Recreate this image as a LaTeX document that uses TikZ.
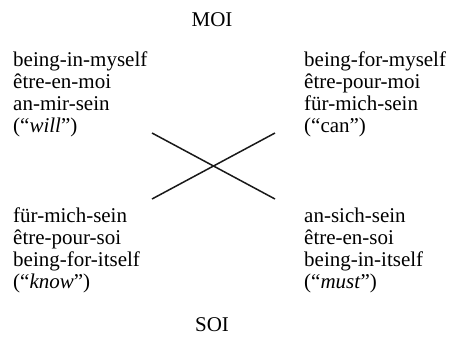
\documentclass[tikz,border=0pt]{standalone}
\usepackage{fontspec}
\setmainfont{Liberation Serif}
\begin{document}
\begin{tikzpicture}[x=1pt,y=-1pt,
  txt/.style={anchor=base west,inner sep=0pt,font=\fontsize{21}{22}\selectfont},
  lbl/.style={anchor=base,inner sep=0pt,font=\fontsize{21}{22}\selectfont},
  cross/.style={line width=1.5pt,black!90}]
\useasboundingbox (0,0) rectangle (450,341);
\node[lbl] (moi) at (212,26) {MOI};
\node[lbl] (soi) at (212,331) {SOI};
% top left
\node[txt] (a1) at (13,66) {being-in-myself};
\node[txt] (a2) at (13,88) {être-en-moi};
\node[txt] (a3) at (13,110) {an-mir-sein};
\node[txt] (a4) at (13,132) {(“\textit{will}”)};
% top right
\node[txt] (b1) at (304,66) {being-for-myself};
\node[txt] (b2) at (304,88) {être-pour-moi};
\node[txt] (b3) at (304,110) {für-mich-sein};
\node[txt] (b4) at (304,132) {(“can”)};
% bottom left
\node[txt] (c1) at (13,222) {für-mich-sein};
\node[txt] (c2) at (13,244) {être-pour-soi};
\node[txt] (c3) at (13,266) {being-for-itself};
\node[txt] (c4) at (13,288) {(“\textit{know}”)};
% bottom right
\node[txt] (d1) at (304,222) {an-sich-sein};
\node[txt] (d2) at (304,244) {être-en-soi};
\node[txt] (d3) at (304,266) {being-in-itself};
\node[txt] (d4) at (304,288) {(“\textit{must}”)};
% cross
\coordinate (tl) at (152,133);
\coordinate (br) at (275,199);
\coordinate (bl) at (152,199);
\coordinate (tr) at (275,133);
\draw[cross] (tl) -- (br);
\draw[cross] (bl) -- (tr);
\end{tikzpicture}
\end{document}
